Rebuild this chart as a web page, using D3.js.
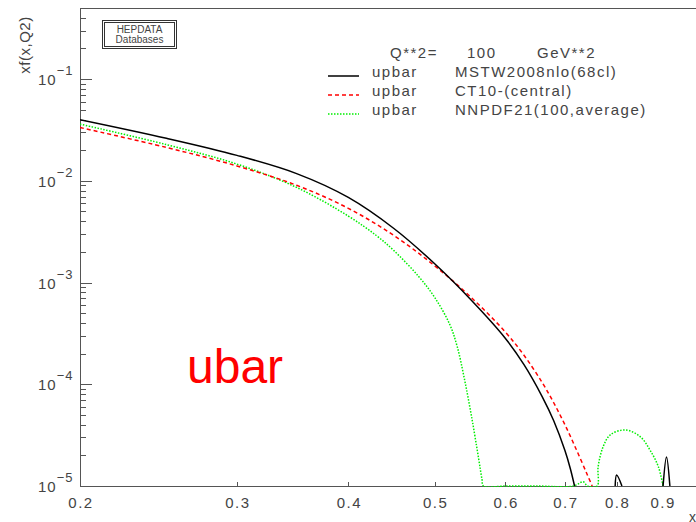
<!DOCTYPE html>
<html lang="en">
<head>
<meta charset="utf-8">
<style>
  body { margin: 0; background: #fff; }
  svg { display: block; font-family: "Liberation Sans", Arial, sans-serif; }
  .lbl { fill: #444; }
  .leg { fill: #444; font-size: 15px; letter-spacing: 1.5px; }
</style>
</head>
<body>
<svg width="696" height="522"></svg>
<script src="https://cdn.jsdelivr.net/npm/d3@7"></script>
<script>
// values (x, xf(x,Q2)); null = below the axis, not drawn
var xBlack = [0.20, 0.25, 0.30, 0.35, 0.40, 0.45, 0.50, 0.55, 0.60, 0.63, 0.66, 0.68, 0.70, 0.71, 0.7176,
              0.73, 0.797, 0.80, 0.811, 0.85, 0.902, 0.91, 0.918]
var mstw = [0.0399, 0.0262, 0.0178, 0.01178, 0.00687, 0.00340, 0.00153, 0.000667, 0.000284, 0.000155, 7.57e-5, 4.38e-5, 2.23e-5, 1.47e-5, 1.0e-5,
            null, 1.0e-5, 1.28e-5, 1.0e-5, null, 1.0e-5, 1.93e-5, 1.0e-5]

var xRed = [0.20, 0.25, 0.30, 0.35, 0.40, 0.45, 0.50, 0.55, 0.60, 0.63, 0.66, 0.68, 0.70, 0.72, 0.74, 0.751]
var ct10 = [0.0334, 0.0213, 0.0140, 0.00904, 0.00537, 0.00290, 0.00146, 0.000708, 0.000327, 0.000192, 0.000104, 6.58e-5, 4.00e-5, 2.34e-5, 1.35e-5, 1.0e-5]

var xGreen = [0.20, 0.25, 0.30, 0.35, 0.40, 0.43, 0.45, 0.48, 0.50, 0.52, 0.53, 0.54, 0.55, 0.56, 0.565, 0.567,
              0.60, 0.65, 0.716, 0.734, 0.742, 0.7607, 0.7627, 0.7727, 0.787, 0.818, 0.850, 0.872, 0.891, 0.902]
var nnpdf = [0.0361, 0.0227, 0.0146, 0.00861, 0.00450, 0.00290, 0.00206, 0.00114, 0.000714, 0.000385, 0.000234, 0.000112, 4.80e-5, 1.88e-5, 1.16e-5, 1.0e-5,
             1.0e-5, 1.0e-5, 1.0e-5, 1.10e-5, 1.0e-5, 1.0e-5, 1.55e-5, 2.44e-5, 3.18e-5, 3.56e-5, 3.06e-5, 2.26e-5, 1.55e-5, 1.0e-5]

var xTicks = [0.2, 0.3, 0.4, 0.5, 0.6, 0.7, 0.8, 0.9]
var yDecades = [1e-5, 1e-4, 1e-3, 1e-2, 1e-1]
var yExps = ['-5', '-4', '-3', '-2', '-1']

var series = [
  {name: 'MSTW2008nlo(68cl)', xs: xBlack, ys: mstw, color: '#000', dash: null},
  {name: 'CT10-(central)', xs: xRed, ys: ct10, color: '#ff0000', dash: '4,3'},
  {name: 'NNPDF21(100,average)', xs: xGreen, ys: nnpdf, color: '#00ee00', dash: '1.5,1.5'}
]

var svg = d3.select('svg')
var padL = 80, padT = 8, padB = 486, padR = 703

var x = d3.scaleLog().domain([0.2, 1]).range([padL, padR])
var y = d3.scaleLog().domain([1e-5, 0.5]).range([padB, padT]).clamp(true)

svg.append('rect').attr('width', 696).attr('height', 522).attr('fill', '#fff')

svg.append('clipPath').attr('id', 'plot')
  .append('rect').attr('x', padL).attr('y', padT - 1).attr('width', padR - padL).attr('height', padB - padT + 2)

// frame
var axisCol = '#555'
svg.append('line').attr('x1', padL).attr('x2', 696).attr('y1', padT + 0.5).attr('y2', padT + 0.5).attr('stroke', axisCol)
svg.append('line').attr('x1', padL + 0.5).attr('x2', padL + 0.5).attr('y1', padT).attr('y2', padB).attr('stroke', axisCol)
svg.append('line').attr('x1', padL).attr('x2', 696).attr('y1', padB + 0.5).attr('y2', padB + 0.5).attr('stroke', axisCol)

// y ticks: decades long, 2..9 short
var minor = []
yDecades.forEach(function (d) {
  for (var k = 2; k <= 9; k++) { if (d * k <= 0.5) minor.push(d * k) }
})
svg.append('g').selectAll('line').data(yDecades).enter().append('line')
  .attr('x1', padL).attr('x2', padL + 12)
  .attr('y1', function (d) { return Math.round(y(d)) + 0.5 })
  .attr('y2', function (d) { return Math.round(y(d)) + 0.5 })
  .attr('stroke', axisCol)
svg.append('g').selectAll('line').data(minor).enter().append('line')
  .attr('x1', padL).attr('x2', padL + 6)
  .attr('y1', function (d) { return Math.round(y(d)) + 0.5 })
  .attr('y2', function (d) { return Math.round(y(d)) + 0.5 })
  .attr('stroke', axisCol)

var yl = svg.append('g').selectAll('text').data(yDecades).enter().append('text')
  .attr('class', 'lbl')
  .attr('x', 38)
  .attr('y', function (d) { return y(d) + 6 })
  .attr('font-size', 15)
  .attr('letter-spacing', 1)
yl.append('tspan').text('10')
yl.append('tspan').attr('dy', -10).attr('font-size', 13)
  .text(function (d, i) { return yExps[i].replace('-', '\u2212') })

// x ticks, pointing inward
svg.append('g').selectAll('line').data(xTicks.slice(1)).enter().append('line')
  .attr('x1', function (d) { return Math.round(x(d)) + 0.5 })
  .attr('x2', function (d) { return Math.round(x(d)) + 0.5 })
  .attr('y1', padB).attr('y2', padB - 4)
  .attr('stroke', axisCol)
svg.append('g').selectAll('text').data(xTicks).enter().append('text')
  .attr('class', 'lbl')
  .attr('x', function (d) { return x(d) + 1 })
  .attr('y', 508)
  .attr('text-anchor', 'middle')
  .attr('font-size', 15)
  .attr('letter-spacing', 1.5)
  .text(function (d) { return d3.format('.1f')(d) })

svg.append('text').attr('class', 'lbl').attr('x', 689).attr('y', 522).attr('font-size', 14).text('x')

svg.append('text').attr('class', 'lbl')
  .attr('transform', 'translate(30,45) rotate(-90)')
  .attr('text-anchor', 'middle')
  .attr('font-size', 15)
  .attr('letter-spacing', 0.5)
  .text('xf(x,Q2)')

// HEPDATA stamp
svg.append('rect').attr('x', 102.5).attr('y', 20.5).attr('width', 74).attr('height', 28).attr('fill', 'none').attr('stroke', '#333')
svg.append('rect').attr('x', 104.5).attr('y', 22.5).attr('width', 70).attr('height', 24).attr('fill', 'none').attr('stroke', '#333')
svg.append('text').attr('class', 'lbl').attr('x', 139.5).attr('y', 33).attr('text-anchor', 'middle').attr('font-size', 10).text('HEPDATA')
svg.append('text').attr('class', 'lbl').attr('x', 139.5).attr('y', 43).attr('text-anchor', 'middle').attr('font-size', 10).text('Databases')

// curves
var line = d3.line()
  .defined(function (d) { return d[1] != null })
  .x(function (d) { return x(d[0]) })
  .y(function (d) { return y(d[1]) })
  .curve(d3.curveCatmullRom.alpha(0.5))

var plot = svg.append('g').attr('clip-path', 'url(#plot)')
series.slice().reverse().forEach(function (s) {
  plot.append('path')
    .datum(s.xs.map(function (v, i) { return [v, s.ys[i]] }))
    .attr('d', line)
    .attr('fill', 'none')
    .attr('stroke', s.color)
    .attr('stroke-width', 1.5)
    .attr('stroke-dasharray', s.dash)
})

// legend
svg.append('text').attr('class', 'leg').attr('x', 390).attr('y', 58).text('Q**2=')
svg.append('text').attr('class', 'leg').attr('x', 467).attr('y', 58).text('100')
svg.append('text').attr('class', 'leg').attr('x', 537).attr('y', 58).text('GeV**2')
var rows = svg.append('g').selectAll('g').data(series).enter().append('g')
  .attr('transform', function (d, i) { return 'translate(0,' + (77 + i * 19) + ')' })
rows.append('line').attr('x1', 328).attr('x2', 359).attr('y1', -1).attr('y2', -1)
  .attr('stroke', function (d) { return d.color })
  .attr('stroke-width', 1.5)
  .attr('stroke-dasharray', function (d) { return d.dash })
rows.append('text').attr('class', 'leg').attr('x', 372).text('upbar')
rows.append('text').attr('class', 'leg').attr('x', 455).text(function (d) { return d.name })

svg.append('text').attr('x', 187).attr('y', 383).attr('fill', '#ff0000').attr('font-size', 48).text('ubar')
</script>
</body>
</html>
